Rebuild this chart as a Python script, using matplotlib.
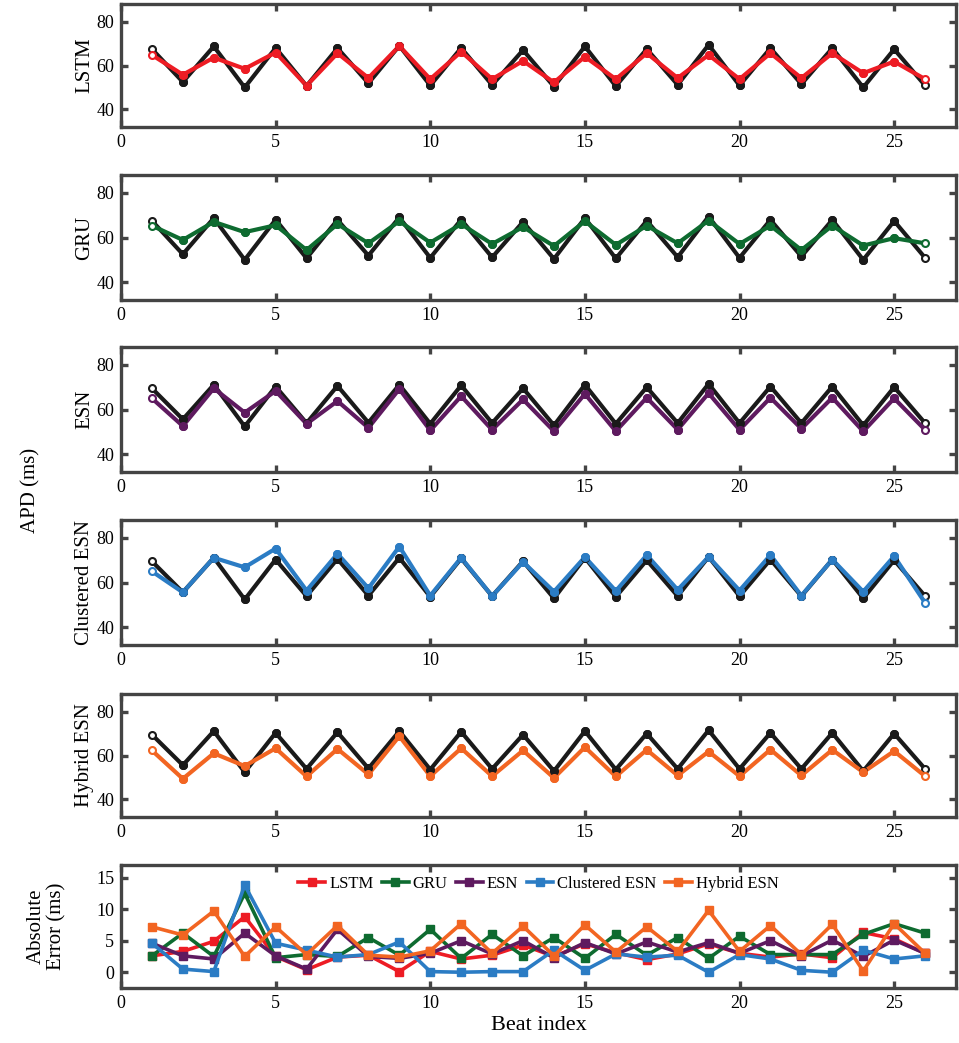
import matplotlib
matplotlib.use('Agg')
import matplotlib.pyplot as plt

plt.rcParams['font.family'] = ['Liberation Serif', 'DejaVu Serif']

# Data
beats = list(range(1, 27))

# measured APD, as drawn in the LSTM / GRU panels
truth_a = [67.5, 52.5, 68.7, 50.0, 68.0, 50.7, 67.9, 51.9, 69.0, 50.9, 68.0, 51.1, 67.0,
           50.4, 68.7, 50.6, 67.5, 51.2, 69.4, 50.9, 67.9, 51.5, 67.9, 50.0, 67.4, 50.9]
# measured APD, as drawn in the ESN panels
truth_b = [69.5, 55.6, 71.1, 52.4, 70.3, 53.9, 70.6, 54.1, 71.1, 53.6, 70.8, 53.9, 69.5,
           52.9, 71.1, 53.6, 70.0, 53.9, 71.5, 53.9, 70.3, 53.9, 70.3, 52.9, 70.0, 53.9]

lstm_pred = [64.8, 55.8, 63.6, 58.5, 65.9, 50.8, 65.6, 54.3, 68.9, 53.8, 66.3, 53.8, 62.1,
             52.3, 64.0, 53.8, 65.6, 54.3, 64.8, 53.8, 65.6, 54.3, 65.6, 56.5, 61.8, 53.8]
gru_pred = [65.3, 58.9, 67.0, 62.4, 65.5, 54.4, 66.0, 57.4, 67.3, 57.7, 66.0, 57.1, 64.7,
            56.2, 67.3, 56.7, 65.3, 57.4, 67.6, 57.1, 65.3, 54.4, 65.3, 56.4, 59.7, 57.4]
esn_pred = [65.0, 52.6, 69.5, 58.6, 68.3, 53.6, 63.8, 51.8, 69.2, 50.6, 66.0, 50.9, 64.5,
            50.3, 67.0, 50.3, 65.3, 51.0, 67.3, 50.9, 65.3, 51.4, 65.3, 50.2, 65.0, 50.9]
cesn_pred = [65.0, 55.6, 71.1, 66.8, 75.2, 56.4, 72.9, 57.4, 76.1, 54.1, 71.1, 53.9, 69.2,
             55.9, 71.4, 56.2, 72.3, 56.7, 71.5, 56.4, 72.3, 54.1, 70.3, 55.9, 71.8, 50.9]
hesn_pred = [62.3, 49.4, 61.0, 55.2, 63.3, 50.5, 63.0, 51.4, 68.8, 50.6, 63.3, 50.6, 62.3,
             49.8, 63.8, 50.5, 62.6, 50.9, 61.8, 50.6, 62.7, 50.9, 62.6, 52.4, 62.0, 50.6]

err_lstm = [2.6, 3.3, 4.9, 8.8, 2.5, 0.4, 2.4, 2.7, 0.1, 3.3, 2.1, 2.7, 4.3,
            2.5, 4.5, 3.1, 2.0, 2.9, 4.5, 3.0, 2.4, 2.9, 2.3, 6.3, 5.3, 3.0]
err_gru = [2.6, 6.2, 2.5, 12.5, 2.3, 2.8, 2.5, 5.5, 2.7, 6.8, 2.2, 6.0, 2.6,
           5.5, 2.2, 6.0, 2.7, 5.5, 2.2, 5.7, 2.8, 2.8, 2.8, 6.0, 7.7, 6.2]
err_esn = [4.6, 2.6, 2.1, 6.2, 2.6, 0.5, 6.8, 2.5, 2.2, 3.0, 5.0, 2.9, 5.0,
           2.3, 4.7, 2.9, 4.8, 3.2, 4.7, 3.0, 5.0, 2.6, 5.1, 2.5, 5.1, 3.0]
err_cesn = [4.6, 0.5, 0.1, 13.8, 4.6, 3.5, 2.4, 2.8, 4.8, 0.1, 0.0, 0.1, 0.1,
            3.5, 0.3, 2.9, 2.4, 2.7, 0.0, 2.8, 2.1, 0.3, 0.0, 3.5, 2.1, 2.6]
err_hesn = [7.2, 5.9, 9.7, 2.5, 7.2, 2.8, 7.4, 2.7, 2.4, 3.4, 7.7, 3.0, 7.3,
            2.6, 7.5, 3.2, 7.2, 3.3, 9.8, 3.3, 7.4, 2.8, 7.6, 0.2, 7.7, 3.0]

models = ['LSTM', 'GRU', 'ESN', 'Clustered ESN', 'Hybrid ESN']
colors = ['#ED1C24', '#0E6B30', '#5E1A5F', '#2B7CC4', '#F26522']
preds = [lstm_pred, gru_pred, esn_pred, cesn_pred, hesn_pred]
truths = [truth_a, truth_a, truth_b, truth_b, truth_b]
errors = [err_lstm, err_gru, err_esn, err_cesn, err_hesn]

SPINE = '#444444'
W, H = 959, 1043
fig = plt.figure(figsize=(W / 100, H / 100), dpi=100)

# panel extents in pixels (top, bottom)
rows = [(4, 127), (175, 300), (347, 472), (520, 645), (694, 817), (865, 988)]
left_px, right_px = 121, 956


def style_axes(ax):
    for s in ax.spines.values():
        s.set_linewidth(2.4)
        s.set_color(SPINE)
    ax.tick_params(direction='in', length=5, width=2.4, color=SPINE,
                   top=True, right=True, labelsize=13, pad=5)
    ax.set_xlim(0, 27)
    ax.set_xticks([0, 5, 10, 15, 20, 25])


axes = []
for top, bot in rows:
    ax = fig.add_axes([left_px / W, 1 - bot / H, (right_px - left_px) / W, (bot - top) / H])
    style_axes(ax)
    axes.append(ax)

for ax, name, c, p, t in zip(axes[:5], models, colors, preds, truths):
    ax.plot(beats, t, color='#1A1A1A', lw=3.0, marker='o', ms=5, mfc='white', mew=1.5)
    ax.plot(beats, p, color=c, lw=3.0, marker='o', ms=5, mfc='white', mew=1.5)
    # redraw interior markers filled so only the end points look hollow
    ax.plot(beats[1:-1], t[1:-1], ls='none', color='#1A1A1A', marker='o', ms=5.5)
    ax.plot(beats[1:-1], p[1:-1], ls='none', color=c, marker='o', ms=5.5)
    ax.set_ylim(32, 88)
    ax.set_yticks([40, 60, 80])
    ax.set_ylabel(name, fontsize=15)
    ax.yaxis.set_label_coords(-0.032, 0.5)

ax = axes[5]
for name, c, e in zip(models, colors, errors):
    ax.plot(beats, e, color=c, lw=2.6, marker='s', ms=6, label=name)
ax.set_ylim(-2.5, 17)
ax.set_yticks([0, 5, 10, 15])
ax.set_ylabel('Absolute\nError (ms)', fontsize=15, linespacing=1.1)
ax.yaxis.set_label_coords(-0.065, 0.5)
ax.set_xlabel('Beat index', fontsize=16, labelpad=3)
ax.legend(loc='upper center', bbox_to_anchor=(0.5, 1.03), ncol=5, frameon=False,
          fontsize=12, handlelength=1.6, handletextpad=0.25, columnspacing=0.5)

fig.text(31 / W, 1 - 490 / H, 'APD (ms)', rotation=90, fontsize=15,
         ha='center', va='center')

fig.savefig('out.png', dpi=100)
